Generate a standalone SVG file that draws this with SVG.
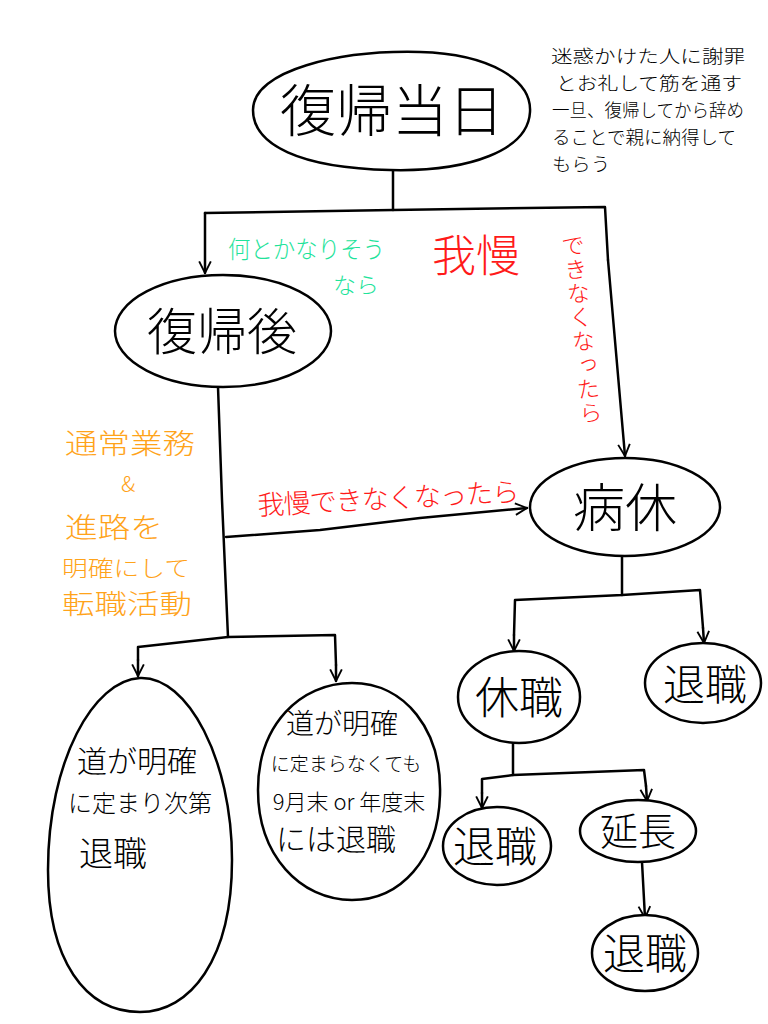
<svg xmlns="http://www.w3.org/2000/svg" width="768" height="1024" viewBox="0 0 768 1024">
<defs>
<style>
.n{fill:#fff;stroke:#000;stroke-width:2.5}
.c{fill:none;stroke:#000;stroke-width:2.5;stroke-linecap:round;stroke-linejoin:round}
.t{font-family:"Noto Sans CJK JP","Noto Sans",sans-serif;font-weight:300;fill:#000}
.red{fill:#ff1a1a}
.org{fill:#ffa31a}
.cyn{fill:#1fe39b}
.vt{writing-mode:vertical-rl}
</style>
<marker id="ah" viewBox="0 0 12 12" refX="11" refY="6" markerWidth="14" markerHeight="14" markerUnits="userSpaceOnUse" orient="auto">
<path d="M1,1 L11,6 L1,11" fill="none" stroke="#000" stroke-width="1.6"/>
</marker>
</defs>
<rect width="768" height="1024" fill="#fff"/>

<g id="connectors">
<path class="c" d="M393,170 L393,210"/>
<path class="c" d="M205,213 L393,210 L605,207 L608,260"/>
<path class="c" d="M205,213 L205,273" marker-end="url(#ah)"/>
<path class="c" d="M608,260 L625,456" marker-end="url(#ah)"/>
<path class="c" d="M218,387 L222,500 L228,637"/>
<path class="c" d="M226,537 L320,530 L420,518 L527,508" marker-end="url(#ah)"/>
<path class="c" d="M138,660 L138,647 L228,637 L335,635 L336,665"/>
<path class="c" d="M138,660 L138,676" marker-end="url(#ah)"/>
<path class="c" d="M336,665 L336,681" marker-end="url(#ah)"/>
<path class="c" d="M622,556 L622,595 L515,600 L514,635"/>
<path class="c" d="M514,635 L514,651" marker-end="url(#ah)"/>
<path class="c" d="M622,595 L700,590 L703,628"/>
<path class="c" d="M703,628 L704,643" marker-end="url(#ah)"/>
<path class="c" d="M513,743 L513,775 L482,779 L482,793"/>
<path class="c" d="M482,793 L482,808" marker-end="url(#ah)"/>
<path class="c" d="M513,775 L644,770 L646,786"/>
<path class="c" d="M646,786 L647,801" marker-end="url(#ah)"/>
<path class="c" d="M642,862 L645,918" marker-end="url(#ah)"/>
</g>

<g id="node-fukki-toujitsu">
<path class="n" d="M253,110 C253,70 340,50 420,52 C490,54 532,80 530,112 C528,150 470,172 390,170 C300,168 253,145 253,110 Z"/>
<text class="t" x="392" y="131" font-size="56" text-anchor="middle">復帰当日</text>
</g>

<g id="node-fukki-go">
<ellipse class="n" cx="223" cy="331" rx="108" ry="56"/>
<text class="t" x="222" y="350" font-size="50" text-anchor="middle">復帰後</text>
</g>

<g id="node-byoukyuu">
<ellipse class="n" cx="625" cy="507" rx="95" ry="49"/>
<text class="t" x="625" y="527" font-size="52" text-anchor="middle">病休</text>
</g>

<g id="node-kyuushoku">
<ellipse class="n" cx="519" cy="697" rx="61" ry="46"/>
<text class="t" x="519" y="714" font-size="44" text-anchor="middle">休職</text>
</g>

<g id="node-taishoku-right">
<ellipse class="n" cx="703" cy="683" rx="58" ry="40"/>
<text class="t" x="705" y="700" font-size="42" text-anchor="middle">退職</text>
</g>

<g id="node-taishoku-left">
<ellipse class="n" cx="497" cy="846" rx="54" ry="39"/>
<text class="t" x="495" y="862" font-size="42" text-anchor="middle">退職</text>
</g>

<g id="node-enchou">
<ellipse class="n" cx="638" cy="831" rx="58" ry="31"/>
<text class="t" x="638" y="845" font-size="38" text-anchor="middle">延長</text>
</g>

<g id="node-taishoku-bottom">
<ellipse class="n" cx="645" cy="953" rx="53" ry="38"/>
<text class="t" x="645" y="969" font-size="42" text-anchor="middle">退職</text>
</g>

<g id="node-michi-sadamari">
<path class="n" d="M140,678 C188,676 232,760 232,860 C232,960 190,1012 140,1012 C85,1012 48,960 48,870 C48,760 94,680 140,678 Z"/>
<text class="t" x="137" y="772" font-size="30" text-anchor="middle">道が明確</text>
<text class="t" x="140" y="812" font-size="24" text-anchor="middle">に定まり次第</text>
<text class="t" x="113" y="866" font-size="34" text-anchor="middle">退職</text>
</g>

<g id="node-michi-sadamaranakute">
<path class="n" d="M352,683 C405,683 442,730 440,795 C438,860 400,900 352,900 C300,900 258,855 258,790 C258,725 300,683 352,683 Z"/>
<text class="t" x="342" y="734" font-size="28" text-anchor="middle">道が明確</text>
<text class="t" x="346" y="771" font-size="19" text-anchor="middle">に定まらなくても</text>
<text class="t" x="349" y="810" font-size="22" text-anchor="middle">9月末 or 年度末</text>
<text class="t" x="336" y="850" font-size="30" text-anchor="middle">には退職</text>
</g>

<g id="labels">
<text class="t cyn" x="228" y="258" font-size="24" textLength="157" lengthAdjust="spacingAndGlyphs">何とかなりそう</text>
<text class="t cyn" x="333" y="293" font-size="22" textLength="46" lengthAdjust="spacingAndGlyphs">なら</text>

<text class="t red" x="432" y="272" font-size="44">我慢</text>
<text class="t red vt" x="572" y="234" font-size="23" letter-spacing="1" transform="rotate(-6 572 234)">できなくなったら</text>

<text class="t red" x="258" y="515" font-size="27" textLength="262" transform="rotate(-3 258 515)">我慢できなくなったら</text>

<text class="t org" x="65" y="454" font-size="28" textLength="130" lengthAdjust="spacingAndGlyphs">通常業務</text>
<text class="t org" x="128" y="492" font-size="22" text-anchor="middle">&amp;</text>
<text class="t org" x="65" y="538" font-size="28" textLength="98" lengthAdjust="spacingAndGlyphs">進路を</text>
<text class="t org" x="62" y="576" font-size="22" textLength="128" lengthAdjust="spacingAndGlyphs">明確にして</text>
<text class="t org" x="62" y="614" font-size="27" textLength="130" lengthAdjust="spacingAndGlyphs">転職活動</text>

<text class="t" font-size="18" lengthAdjust="spacingAndGlyphs">
<tspan x="551" y="63" textLength="194" lengthAdjust="spacingAndGlyphs">迷惑かけた人に謝罪</tspan>
<tspan x="556" y="90" textLength="186" lengthAdjust="spacingAndGlyphs">とお礼して筋を通す</tspan>
<tspan x="552" y="117" textLength="192" lengthAdjust="spacingAndGlyphs">一旦、復帰してから辞め</tspan>
<tspan x="552" y="144" textLength="184" lengthAdjust="spacingAndGlyphs">ることで親に納得して</tspan>
<tspan x="552" y="171" textLength="58" lengthAdjust="spacingAndGlyphs">もらう</tspan>
</text>
</g>
</svg>
